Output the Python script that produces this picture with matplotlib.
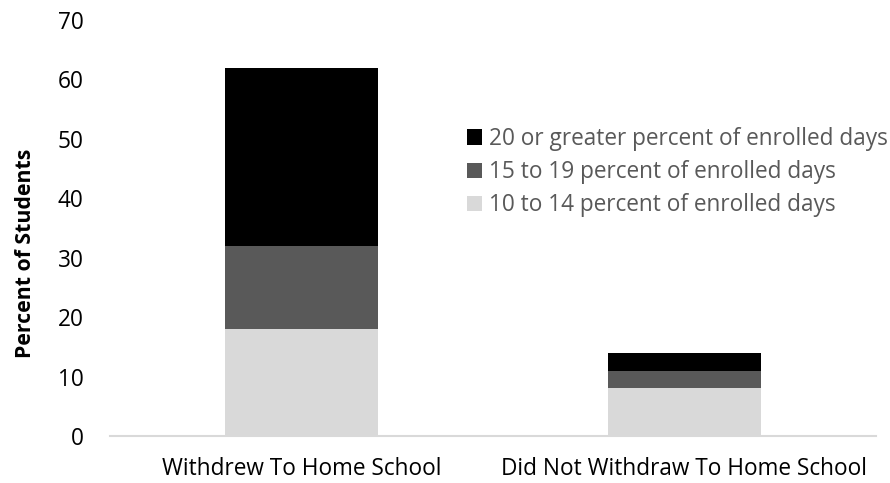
import matplotlib.pyplot as plt
import numpy as np

plt.rcParams['font.family'] = ['Open Sans', 'DejaVu Sans']

categories = ["Withdrew To Home School", "Did Not Withdraw To Home School"]
pct_10_14 = [18, 8]
pct_15_19 = [14, 3]
pct_20_plus = [30, 3]

series = [
    ("10 to 14 percent of enrolled days", pct_10_14, "#d9d9d9"),
    ("15 to 19 percent of enrolled days", pct_15_19, "#595959"),
    ("20 or greater percent of enrolled days", pct_20_plus, "#000000"),
]

fig = plt.figure(figsize=(8.9, 4.83), dpi=100)
ax = fig.add_axes([0.1236, 0.0973, 0.8604, 0.8613])

x = np.arange(len(categories))
bottom = np.zeros(len(categories))
for label, vals, color in series:
    ax.bar(x, vals, width=0.4, bottom=bottom, color=color, label=label)
    bottom += np.array(vals)

ax.set_xlim(-0.5, 1.5)
ax.set_ylim(0, 70)
ax.set_yticks(range(0, 71, 10))
ax.set_xticks(x)
ax.set_xticklabels(categories)
ax.tick_params(axis='both', length=0, labelsize=16.3, labelcolor='#000000')
ax.tick_params(axis='y', pad=19)
ax.tick_params(axis='x', pad=15)

for side in ['top', 'right', 'left']:
    ax.spines[side].set_visible(False)
ax.spines['bottom'].set_color('#d9d9d9')
ax.spines['bottom'].set_linewidth(1.5)

ax.set_ylabel("Percent of Students", fontsize=15.3, fontweight='bold')
ax.yaxis.set_label_coords(-0.097, 0.44)

handles, labels = ax.get_legend_handles_labels()
leg = ax.legend(handles[::-1], labels[::-1], loc='upper left',
                bbox_to_anchor=(0.466, 0.743), frameon=False, fontsize=16.3,
                handlelength=0.65, handleheight=0.65, handletextpad=0.35,
                labelspacing=0.41, borderaxespad=0, borderpad=0)
for t in leg.get_texts():
    t.set_color('#595959')

fig.savefig("out.png", dpi=100)
